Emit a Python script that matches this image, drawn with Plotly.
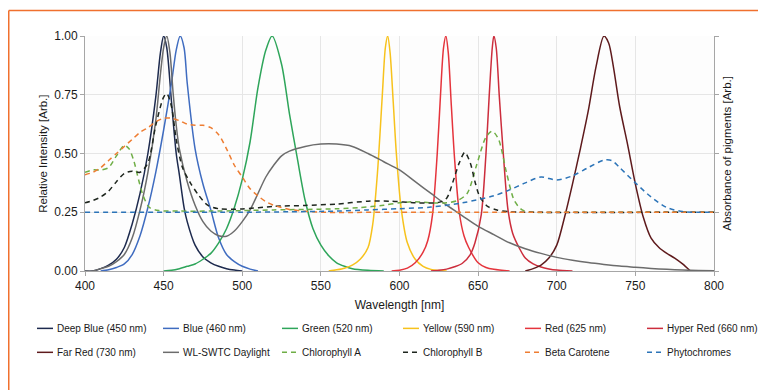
import plotly.graph_objects as go

# LED emission spectra (wavelength nm, relative intensity)
DEEP_BLUE_WL = [400, 405, 410, 415, 420, 425, 430, 435, 440, 445, 448, 450, 452, 455, 458, 460, 463, 465, 470, 475, 480, 485, 490, 495, 500]
DEEP_BLUE = [0, 0, 0.01, 0.025, 0.05, 0.1, 0.2, 0.33, 0.5, 0.74, 0.93, 1.0, 0.95, 0.72, 0.5, 0.41, 0.27, 0.21, 0.11, 0.06, 0.035, 0.02, 0.01, 0.004, 0]

BLUE_WL = [410, 415, 420, 425, 430, 435, 440, 445, 450, 455, 458, 460.5, 463, 465, 470, 475, 480, 485, 490, 495, 500, 505, 510]
BLUE = [0, 0.005, 0.015, 0.03, 0.07, 0.15, 0.27, 0.42, 0.6, 0.8, 0.94, 1.0, 0.95, 0.8, 0.52, 0.37, 0.26, 0.14, 0.07, 0.04, 0.02, 0.008, 0]

GREEN_WL = [450, 455, 460, 465, 470, 475, 480, 485, 490, 495, 500, 505, 510, 515, 519, 525, 530, 535, 540, 545, 550, 555, 560, 565, 570, 580, 590]
GREEN = [0, 0.003, 0.01, 0.02, 0.03, 0.05, 0.075, 0.12, 0.18, 0.27, 0.39, 0.55, 0.78, 0.94, 1.0, 0.88, 0.67, 0.48, 0.3, 0.18, 0.11, 0.065, 0.035, 0.02, 0.01, 0.003, 0]

YELLOW_WL = [555, 560, 565, 570, 575, 580, 583, 586, 589, 591, 592.5, 594, 596, 598, 601, 605, 610, 615, 620, 625, 630]
YELLOW = [0, 0.005, 0.012, 0.025, 0.05, 0.1, 0.2, 0.42, 0.74, 0.95, 1.0, 0.93, 0.72, 0.5, 0.27, 0.12, 0.05, 0.02, 0.007, 0.002, 0]

RED_WL = [595, 600, 605, 610, 615, 618, 621, 624, 626, 628, 629.5, 631, 633, 635, 638, 641, 644, 650, 655, 660, 670]
RED = [0, 0.003, 0.012, 0.035, 0.08, 0.13, 0.24, 0.5, 0.74, 0.95, 1.0, 0.93, 0.7, 0.48, 0.25, 0.15, 0.1, 0.035, 0.015, 0.007, 0]

HYPER_RED_WL = [620, 625, 630, 635, 640, 645, 648, 652, 655, 657, 659, 660, 661.5, 663.5, 666, 669, 672, 676, 680, 685, 690, 695, 700, 710]
HYPER_RED = [0, 0.003, 0.008, 0.018, 0.033, 0.07, 0.12, 0.24, 0.5, 0.74, 0.95, 1.0, 0.95, 0.74, 0.5, 0.26, 0.16, 0.1, 0.055, 0.03, 0.017, 0.009, 0.004, 0]

FAR_RED_WL = [680, 685, 690, 695, 700, 705, 710, 715, 720, 725, 730, 733, 736, 740, 745, 750, 755, 760, 765, 770, 775, 780, 785]
FAR_RED = [0, 0.01, 0.025, 0.055, 0.11, 0.23, 0.37, 0.52, 0.68, 0.87, 1.0, 0.97, 0.87, 0.7, 0.54, 0.37, 0.23, 0.14, 0.1, 0.075, 0.055, 0.03, 0]

DAYLIGHT_WL = [400, 405, 410, 415, 420, 425, 430, 435, 440, 445, 448, 450, 452, 454, 456, 458, 460, 465, 470, 475, 480, 485, 490,
               495, 500, 505, 510, 515, 520, 525, 530, 540, 550, 560, 570, 580, 590, 600, 610, 620, 630, 640, 650, 660, 670,
               680, 690, 700, 710, 720, 730, 740, 750, 760, 770, 780, 790, 800]
DAYLIGHT = [0, 0, 0.01, 0.02, 0.04, 0.07, 0.14, 0.26, 0.42, 0.64, 0.84, 0.95, 1.0, 0.93, 0.76, 0.62, 0.52, 0.38, 0.28, 0.21, 0.17, 0.15, 0.148,
            0.17, 0.21, 0.26, 0.33, 0.4, 0.45, 0.49, 0.51, 0.53, 0.54, 0.54, 0.53, 0.5, 0.465, 0.43, 0.38, 0.33, 0.28, 0.235, 0.19, 0.155, 0.12,
            0.095, 0.075, 0.058, 0.046, 0.036, 0.028, 0.021, 0.016, 0.011, 0.007, 0.004, 0.002, 0.001]

# pigment absorbance (right axis)
CHL_A_WL = [400, 405, 410, 415, 420, 425, 428, 431, 434, 437, 441, 447, 460, 480, 500, 520, 540, 560, 575, 590, 600, 610, 620, 630,
            637, 643, 649, 655, 659, 663, 668, 673, 678, 685, 700, 800]
CHL_A = [0.42, 0.43, 0.43, 0.44, 0.49, 0.535, 0.52, 0.47, 0.39, 0.32, 0.27, 0.257, 0.255, 0.255, 0.257, 0.26, 0.262, 0.265, 0.27, 0.28,
         0.29, 0.295, 0.29, 0.29, 0.3, 0.33, 0.45, 0.57, 0.595, 0.56, 0.42, 0.3, 0.26, 0.25, 0.25, 0.25]

CHL_B_WL = [400, 405, 410, 415, 420, 425, 430, 435, 440, 445, 450, 452, 455, 458, 462, 467, 472, 478, 485, 500, 520, 540, 560, 580,
            595, 610, 625, 630, 634, 638, 641.5, 645, 648, 651, 656, 662, 670, 680, 800]
CHL_B = [0.29, 0.3, 0.315, 0.34, 0.38, 0.415, 0.425, 0.42, 0.46, 0.62, 0.74, 0.755, 0.7, 0.56, 0.44, 0.375, 0.325, 0.28, 0.265, 0.264,
         0.275, 0.279, 0.285, 0.297, 0.297, 0.29, 0.292, 0.31, 0.38, 0.46, 0.505, 0.46, 0.38, 0.317, 0.275, 0.26, 0.252, 0.25, 0.25]

BETA_WL = [400, 405, 410, 415, 420, 425, 430, 435, 440, 445, 450, 455, 460, 465, 470, 475, 480, 485, 490, 495, 500, 505, 510, 515,
           520, 525, 530, 540, 550, 600, 700, 800]
BETA = [0.41, 0.42, 0.44, 0.47, 0.5, 0.53, 0.56, 0.59, 0.61, 0.635, 0.65, 0.65, 0.64, 0.625, 0.62, 0.62, 0.61, 0.58, 0.52, 0.45, 0.4,
        0.35, 0.32, 0.295, 0.28, 0.27, 0.262, 0.254, 0.25, 0.25, 0.25, 0.25]

PHYTO_WL = [400, 450, 500, 530, 560, 580, 600, 620, 640, 660, 670, 680, 690, 700, 710, 720, 730, 735, 740, 750, 760, 770, 780, 790, 800]
PHYTO = [0.25, 0.25, 0.25, 0.252, 0.255, 0.26, 0.265, 0.272, 0.29, 0.32, 0.345, 0.375, 0.4, 0.387, 0.405, 0.44, 0.472, 0.47, 0.44,
         0.375, 0.315, 0.27, 0.253, 0.25, 0.25]

TICK_Y = [0, 0.25, 0.5, 0.75, 1.0]
TICK_Y_TEXT = ["0.00", "0.25", "0.50", "0.75", "1.00"]

SERIES = [
    ("Deep Blue (450 nm)", DEEP_BLUE_WL, DEEP_BLUE, "#1d2a4e", None, "y"),
    ("Blue (460 nm)", BLUE_WL, BLUE, "#3f6cc0", None, "y"),
    ("Green (520 nm)", GREEN_WL, GREEN, "#2ea55a", None, "y"),
    ("Yellow (590 nm)", YELLOW_WL, YELLOW, "#f7c21c", None, "y"),
    ("Red (625 nm)", RED_WL, RED, "#e5343c", None, "y"),
    ("Hyper Red (660 nm)", HYPER_RED_WL, HYPER_RED, "#cc2d3c", None, "y"),
    ("Far Red (730 nm)", FAR_RED_WL, FAR_RED, "#5e1a1c", None, "y"),
    ("WL-SWTC Daylight", DAYLIGHT_WL, DAYLIGHT, "#6c6c6c", None, "y"),
    ("Chlorophyll A", CHL_A_WL, CHL_A, "#6fae46", "5px,4px", "y2"),
    ("Chlorophyll B", CHL_B_WL, CHL_B, "#1e261e", "5px,4px", "y2"),
    ("Beta Carotene", BETA_WL, BETA, "#ee7d32", "5px,4px", "y2"),
    ("Phytochromes", PHYTO_WL, PHYTO, "#2c74b8", "5px,4px", "y2"),
]

# page body adds an 8px margin, so the figure is sized to fit inside the window
PAD = 8
W, H = 766 - PAD, 390 - PAD
L, T = 85 - PAD, 36 - PAD
R, B = W - (714 - PAD), H - (271.5 - PAD)
PW, PH = W - L - R, H - T - B


def px_x(x):
    # screen pixel x -> paper fraction
    return (x - PAD - L) / PW


def px_y(y):
    return (H - B - (y - PAD)) / PH


fig = go.Figure()
for name, wl, vals, color, dash, yax in SERIES:
    fig.add_trace(go.Scatter(
        x=wl, y=vals, name=name, mode="lines", yaxis=yax,
        line=dict(color=color, width=1.5, dash=dash, shape="spline", smoothing=0.8),
    ))

AXIS = dict(showline=True, linecolor="#a6a6a6", linewidth=1, ticks="outside", ticklen=4,
            tickcolor="#a6a6a6", gridcolor="#e6e6e6", zeroline=False)

fig.update_layout(
    width=W, height=H,
    margin=dict(l=L, r=R, t=T, b=B, autoexpand=False),
    paper_bgcolor="white",
    plot_bgcolor="#fdfdfd",
    font=dict(family="Liberation Sans, Arial, sans-serif", color="#1a1a1a", size=12),
    xaxis=dict(range=[400, 800], dtick=50, title=dict(text="Wavelength [nm]", font=dict(size=12), standoff=8),
               tickfont=dict(size=12), **AXIS),
    yaxis=dict(range=[0, 1], tickvals=TICK_Y, ticktext=TICK_Y_TEXT, tickfont=dict(size=12), **AXIS),
    yaxis2=dict(range=[0, 1], tickvals=TICK_Y, overlaying="y", side="right", showticklabels=False,
                showgrid=False, showline=True, linecolor="#a6a6a6", ticks="outside", ticklen=4,
                tickcolor="#a6a6a6", zeroline=False),
    showlegend=False,
)

# axis titles placed by pixel centre
fig.add_annotation(text="Relative Intensity [Arb.]", textangle=-90, x=px_x(35), y=px_y(154),
                   xref="paper", yref="paper", showarrow=False, font=dict(size=11.5))
fig.add_annotation(text="Absorbance of pigments [Arb.]", textangle=-90, x=px_x(735), y=px_y(154),
                   xref="paper", yref="paper", showarrow=False, font=dict(size=11.5))

# legend drawn by hand: 6 columns x 2 rows, short line sample + label
COL_X = [37, 163, 282, 403, 525, 647]
ROW_Y = [329, 353]
for i, (name, _, _, color, dash, _) in enumerate(SERIES):
    x0, y0 = COL_X[i % 6], ROW_Y[i // 6]
    fig.add_shape(type="line", xref="paper", yref="paper", x0=px_x(x0), x1=px_x(x0 + 16),
                  y0=px_y(y0), y1=px_y(y0), line=dict(color=color, width=1.5, dash=dash))
    fig.add_annotation(text=name, x=px_x(x0 + 18), y=px_y(y0), xref="paper", yref="paper",
                       xanchor="left", yanchor="middle", showarrow=False, font=dict(size=10))

# orange frame along top and left edge
fig.add_shape(type="line", xref="paper", yref="paper", x0=px_x(PAD + 0.75), x1=px_x(770),
              y0=px_y(10.5), y1=px_y(10.5), line=dict(color="#f0702e", width=1.5))
fig.add_shape(type="line", xref="paper", yref="paper", x0=px_x(PAD + 0.75), x1=px_x(PAD + 0.75),
              y0=px_y(10.5), y1=px_y(395), line=dict(color="#f0702e", width=1.5))

fig.write_html("out.html")
